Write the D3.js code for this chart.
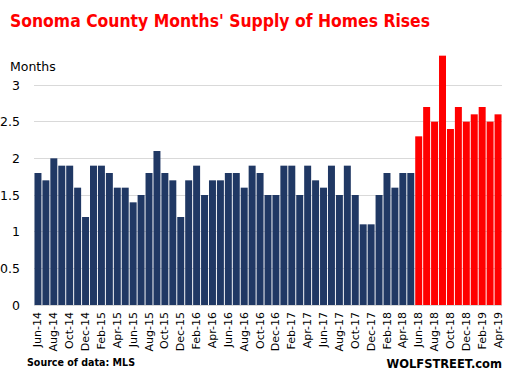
<!DOCTYPE html>
<html><head><meta charset="utf-8">
<script src="https://cdn.jsdelivr.net/npm/d3@7"></script>
<style>body{margin:0;background:#fff}svg{display:block}</style>
</head><body>
<script>
const months = ["Jun-14","Jul-14","Aug-14","Sep-14","Oct-14","Nov-14","Dec-14",
"Jan-15","Feb-15","Mar-15","Apr-15","May-15","Jun-15","Jul-15","Aug-15","Sep-15","Oct-15","Nov-15","Dec-15",
"Jan-16","Feb-16","Mar-16","Apr-16","May-16","Jun-16","Jul-16","Aug-16","Sep-16","Oct-16","Nov-16","Dec-16",
"Jan-17","Feb-17","Mar-17","Apr-17","May-17","Jun-17","Jul-17","Aug-17","Sep-17","Oct-17","Nov-17","Dec-17",
"Jan-18","Feb-18","Mar-18","Apr-18","May-18","Jun-18","Jul-18","Aug-18","Sep-18","Oct-18","Nov-18","Dec-18",
"Jan-19","Feb-19","Mar-19","Apr-19"];
const supply = [1.8,1.7,2.0,1.9,1.9,1.6,1.2,
1.9,1.9,1.8,1.6,1.6,1.4,1.5,1.8,2.1,1.8,1.7,1.2,
1.7,1.9,1.5,1.7,1.7,1.8,1.8,1.6,1.9,1.8,1.5,1.5,
1.9,1.9,1.5,1.9,1.7,1.6,1.9,1.5,1.9,1.5,1.1,1.1,
1.5,1.8,1.6,1.8,1.8,2.3,2.7,2.5,3.4,2.4,2.7,2.5,
2.6,2.7,2.5,2.6];
const highlightFrom = "Jun-18";
const yTicks = [0,0.5,1,1.5,2,2.5,3];

const W=506,H=378;
const m={left:34,right:4,top:85,bottom:73};
const svg=d3.select("body").append("svg").attr("width",W).attr("height",H);
const x=d3.scaleBand().domain(months).range([m.left,W-m.right]).paddingInner(0.12).paddingOuter(0.06);
const y=d3.scaleLinear().domain([0,3]).range([H-m.bottom,m.top]);

// gridlines
svg.append("g").selectAll("line").data(yTicks).join("line")
  .attr("x1",m.left).attr("x2",W-m.right)
  .attr("y1",d=>y(d)).attr("y2",d=>y(d))
  .attr("stroke","#d9d9d9").attr("stroke-width",1).attr("shape-rendering","crispEdges");

// y labels
const yAxis=d3.axisLeft(y).tickValues(yTicks).tickSize(0).tickPadding(0).tickFormat(d3.format("~g"));
const yg=svg.append("g").attr("transform",`translate(${m.left-14},0)`).call(yAxis);
yg.select(".domain").remove();
yg.selectAll("text").attr("font-family","'DejaVu Sans',sans-serif").attr("font-size",12.5).attr("fill","#000");

svg.append("text").attr("x",10).attr("y",71).text("Months")
  .attr("font-family","'DejaVu Sans',sans-serif").attr("font-size",12.5).attr("fill","#000");

// bars
const hi=months.indexOf(highlightFrom);
svg.append("g").selectAll("rect").data(months).join("rect")
  .attr("x",d=>x(d)).attr("width",x.bandwidth())
  .attr("y",(d,i)=>y(supply[i])).attr("height",(d,i)=>y(0)-y(supply[i]))
  .attr("fill",(d,i)=>i>=hi?"#ff0000":"#203864");

// x labels
const xAxis=d3.axisBottom(x).tickValues(months.filter((d,i)=>i%2===0)).tickSize(0).tickPadding(0);
const xg=svg.append("g").attr("transform",`translate(0,${y(0)})`).call(xAxis);
xg.select(".domain").remove();
xg.selectAll("text").attr("font-family","'DejaVu Sans',sans-serif").attr("font-size",11).attr("fill","#000")
  .attr("transform","rotate(-90)").attr("text-anchor","end").attr("dx","-7").attr("dy","0.32em").attr("x",0).attr("y",0);

svg.append("text").attr("x",10).attr("y",27).text("Sonoma County Months' Supply of Homes Rises")
  .attr("font-family","'DejaVu Sans',sans-serif").attr("font-weight","bold").attr("font-size",17).attr("fill","#ff0000")
  .attr("textLength",420).attr("lengthAdjust","spacingAndGlyphs");
svg.append("text").attr("x",27).attr("y",366).text("Source of data: MLS")
  .attr("font-family","'DejaVu Sans',sans-serif").attr("font-weight","bold").attr("font-size",11).attr("fill","#000")
  .attr("textLength",108).attr("lengthAdjust","spacingAndGlyphs");
svg.append("text").attr("x",502).attr("y",368).attr("text-anchor","end").text("WOLFSTREET.com")
  .attr("font-family","'DejaVu Sans',sans-serif").attr("font-weight","bold").attr("font-size",11.5).attr("fill","#000");
</script>
</body></html>
